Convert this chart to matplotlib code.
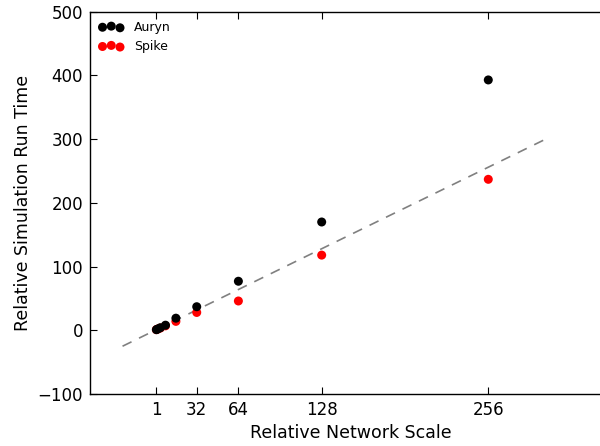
import numpy as np
import matplotlib
matplotlib.use("Agg")
import matplotlib.pyplot as plt

# relative network scale vs relative run time
scale = [1, 2, 4, 8, 16, 32, 64, 128, 256]
auryn = [1, 2, 4, 8, 19, 37, 77, 170, 393]
spike = [1, 2, 3.5, 7, 14, 28, 46, 118, 237]
ref_x = [-25, 300]  # y = x guide
xticks = [1, 32, 64, 128, 256]

fig = plt.figure(figsize=(6.0, 4.46), dpi=100)
ax = fig.add_axes([0.15, 0.1166, 400 * 1.3016 / 600, 0.857])

ax.plot(ref_x, ref_x, linestyle='--', color='gray', dashes=(6, 5), lw=1.2, zorder=1)
ax.scatter(scale, auryn, s=42, c='black', edgecolors='none', label='Auryn', zorder=3)
ax.scatter(scale, spike, s=42, c='red', edgecolors='none', label='Spike', zorder=2)

ax.set_xlim(-50, 350)
ax.set_ylim(-100, 500)
ax.set_xticks(xticks)
ax.set_yticks([-100, 0, 100, 200, 300, 400, 500])
ax.tick_params(direction='in', top=True, right=True, labelsize=12, length=5, pad=5)
for s in ax.spines.values():
    s.set_linewidth(1.0)

ax.set_xlabel('Relative Network Scale', fontsize=12.5)
ax.set_ylabel('Relative Simulation Run Time', fontsize=12.5)
ax.legend(loc='upper left', scatterpoints=3, frameon=False, fontsize=9,
          handletextpad=0.8, borderaxespad=0.3)

fig.savefig('out.png', dpi=100)
